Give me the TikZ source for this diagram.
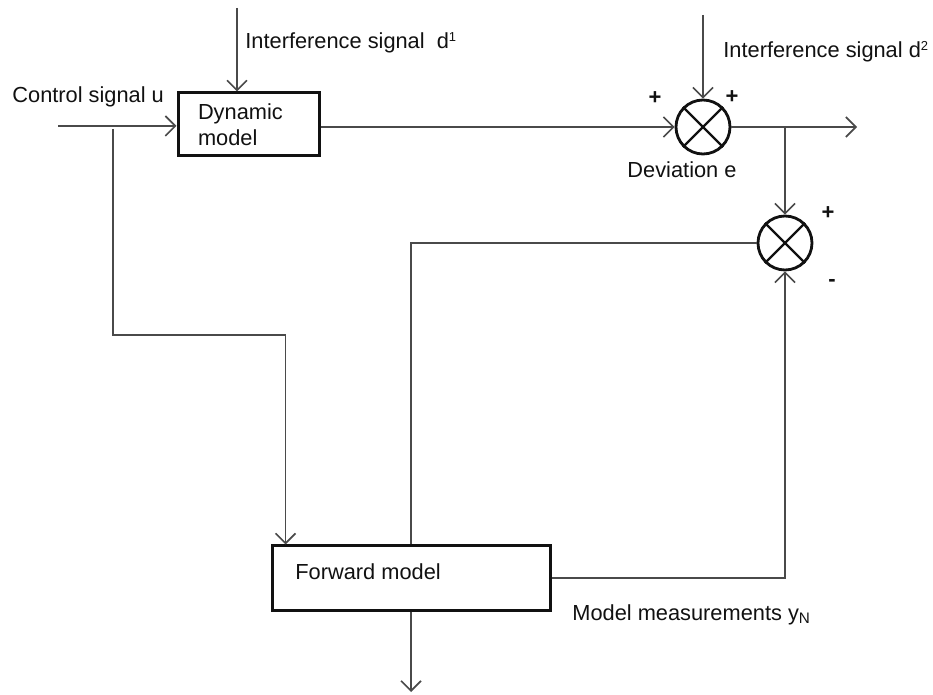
\documentclass[tikz,border=0pt]{standalone}
\usepackage{fontspec}
\setmainfont{Liberation Sans}
\usetikzlibrary{arrows.meta,positioning,calc}
\definecolor{ink}{HTML}{111111}
\definecolor{wire}{HTML}{4A4A4A}
\newcommand{\supx}[1]{\raisebox{3.5pt}{\fontsize{6.5}{7}\selectfont #1}}
\tikzset{
  every node/.style={font=\fontsize{10.9}{13}\selectfont, text=ink},
  box/.style={draw=ink, line width=1.5pt, fill=white, inner sep=0pt},
  sumnode/.style={draw=ink, circle, line width=1.4pt, minimum size=27pt, inner sep=0pt},
  wireline/.style={draw=wire, line width=0.8pt},
  arrow/.style={wireline, -{Straight Barb[length=5pt,width=10pt,line width=0.8pt]}},
  sign/.style={font=\fontsize{11}{12}\selectfont\bfseries},
  lbl/.style={anchor=west, inner sep=0pt},
}
\begin{document}
\begin{tikzpicture}[x=0.5pt,y=-0.5pt]
\useasboundingbox (0,0) rectangle (933,695);
% blocks
\node[box, minimum width=70.5pt, minimum height=31.5pt, text width=50.5pt, align=left] (dyn) at (248.5,124.5) {Dynamic\\model};
\node[box, minimum width=139pt, minimum height=32pt] (fwd) at (411,578) {};
\node[lbl] (fwdtxt) at (295,572) {Forward model};
\node[sumnode] (sum1) at (703,127) {};
\node[sumnode] (sum2) at (785,243) {};
\foreach \s in {sum1,sum2}{
  \draw[line width=1.1pt, draw=ink] (\s.north west) -- (\s.south east) (\s.north east) -- (\s.south west);
}
% free ends
\coordinate (uin) at (58,126);
\coordinate (ubr) at (113,129);
\coordinate (d1in) at (237,8);
\coordinate (d2in) at (703,15);
\coordinate (yout) at (857,127);
\coordinate (ebr) at (785,127);
\coordinate (fout) at (411,692);
% connectors
\draw[arrow] (uin) -- (uin -| dyn.west);
\draw[arrow] (ubr) -- ++(0,206) -| ($(fwd.north west)+(15,0)$);
\draw[arrow] (d1in) -- (d1in |- dyn.north);
\draw[arrow] (dyn.east |- sum1.west) -- (sum1.west);
\draw[arrow] (d2in) -- (sum1.north);
\draw[arrow] (sum1.east) -- (yout);
\draw[arrow] (ebr) -- (sum2.north);
\draw[wireline] (fwd.north) |- (sum2.west);
\draw[arrow] (fwd.east) -| (sum2.south);
\draw[arrow] (fwd.south) -- (fout);
% labels
\node[lbl] (ulbl) at (12,97) {Control signal u};
\node[lbl] (d1lbl) at (245,43) {Interference signal\ \ d\supx{1}};
\node[lbl] (d2lbl) at (723,52) {Interference signal d\supx{2}};
\node (elbl) at (682,170) {Deviation e};
\node[lbl] (ylbl) at (572,615) {Model measurements y\textsubscript{N}};
\node[sign] (p1) at (655,98) {+};
\node[sign] (p2) at (732,97) {+};
\node[sign] (p3) at (828,213) {+};
\node[sign] (m1) at (832,283) {-};
\end{tikzpicture}
\end{document}
